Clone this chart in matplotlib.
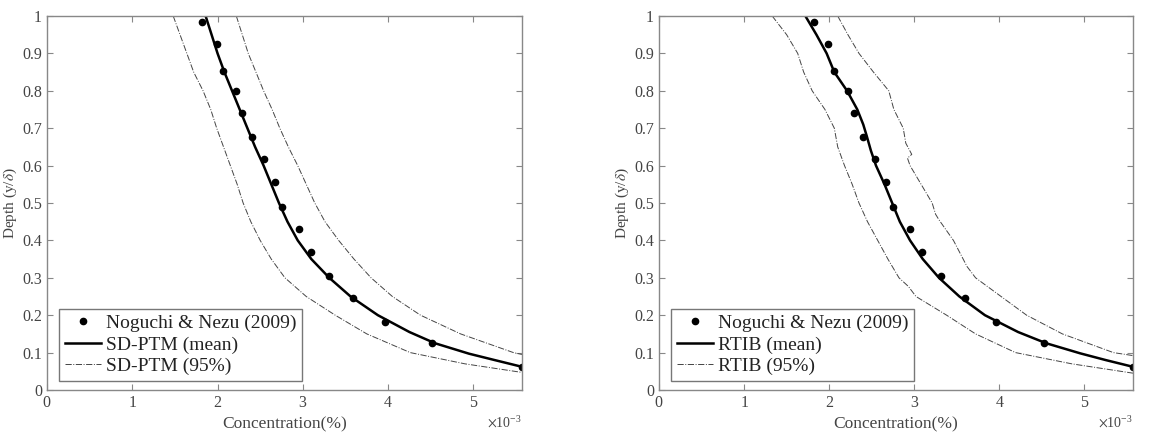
import matplotlib
matplotlib.use("Agg")
import matplotlib.pyplot as plt
from matplotlib.ticker import ScalarFormatter
import numpy as np

plt.rcParams["font.family"] = ["Liberation Serif", "DejaVu Serif"]
plt.rcParams["mathtext.fontset"] = "stix"

# concentration values in units of 1e-3
obs_x = [1.82, 1.99, 2.06, 2.22, 2.29, 2.40, 2.54, 2.67, 2.75, 2.95, 3.09, 3.31, 3.59, 3.96, 4.52, 5.57]
obs_y = [0.984, 0.924, 0.854, 0.800, 0.740, 0.676, 0.617, 0.556, 0.490, 0.431, 0.369, 0.305, 0.245, 0.183, 0.125, 0.062]

# SD-PTM
sd_mean_x = [1.86, 1.93, 2.00, 2.08, 2.17, 2.26, 2.35, 2.44, 2.54, 2.63, 2.72, 2.82, 2.94, 3.10, 3.31, 3.56, 3.88, 4.25, 4.55, 4.95, 5.25, 5.57]
sd_mean_y = [1.00, 0.95, 0.90, 0.85, 0.80, 0.75, 0.70, 0.65, 0.60, 0.55, 0.50, 0.45, 0.40, 0.35, 0.30, 0.25, 0.20, 0.155, 0.125, 0.097, 0.08, 0.062]
sd_lo_x = [1.48, 1.56, 1.64, 1.72, 1.83, 1.92, 1.99, 2.07, 2.15, 2.23, 2.30, 2.39, 2.50, 2.63, 2.79, 3.04, 3.38, 3.75, 4.26, 4.90, 5.57]
sd_lo_y = [1.00, 0.95, 0.90, 0.85, 0.80, 0.75, 0.70, 0.65, 0.60, 0.55, 0.50, 0.45, 0.40, 0.35, 0.30, 0.25, 0.20, 0.15, 0.10, 0.07, 0.047]
sd_hi_x = [2.22, 2.29, 2.36, 2.45, 2.54, 2.64, 2.73, 2.83, 2.94, 3.04, 3.14, 3.26, 3.42, 3.60, 3.80, 4.05, 4.38, 4.85, 5.47, 5.57]
sd_hi_y = [1.00, 0.95, 0.90, 0.85, 0.80, 0.75, 0.70, 0.65, 0.60, 0.55, 0.50, 0.45, 0.40, 0.35, 0.30, 0.25, 0.20, 0.15, 0.10, 0.095]

# RTIB
rt_mean_x = [1.72, 1.85, 1.97, 2.06, 2.21, 2.33, 2.40, 2.44, 2.49, 2.55, 2.65, 2.74, 2.83, 2.95, 3.10, 3.29, 3.53, 3.83, 4.22, 4.55, 4.95, 5.25, 5.57]
rt_mean_y = [1.00, 0.95, 0.90, 0.85, 0.80, 0.75, 0.71, 0.68, 0.64, 0.60, 0.55, 0.50, 0.45, 0.40, 0.35, 0.30, 0.25, 0.20, 0.155, 0.125, 0.098, 0.08, 0.062]
rt_lo_x = [1.33, 1.50, 1.63, 1.70, 1.80, 1.95, 2.06, 2.10, 2.18, 2.27, 2.35, 2.45, 2.57, 2.69, 2.82, 2.93, 3.02, 3.38, 3.72, 4.19, 4.85, 5.57]
rt_lo_y = [1.00, 0.95, 0.90, 0.85, 0.80, 0.75, 0.70, 0.65, 0.60, 0.55, 0.50, 0.45, 0.40, 0.35, 0.30, 0.277, 0.25, 0.20, 0.15, 0.10, 0.07, 0.045]
rt_hi_x = [2.10, 2.22, 2.35, 2.52, 2.70, 2.76, 2.87, 2.90, 2.97, 2.92, 2.95, 3.08, 3.21, 3.25, 3.29, 3.46, 3.62, 3.72, 4.02, 4.32, 4.74, 5.34, 5.57]
rt_hi_y = [1.00, 0.95, 0.90, 0.85, 0.80, 0.75, 0.70, 0.66, 0.63, 0.62, 0.60, 0.55, 0.50, 0.47, 0.455, 0.40, 0.33, 0.30, 0.25, 0.20, 0.15, 0.10, 0.092]

xticks = [0, 1, 2, 3, 4, 5]
yticks = [0, 0.1, 0.2, 0.3, 0.4, 0.5, 0.6, 0.7, 0.8, 0.9, 1]

fig = plt.figure(figsize=(11.51, 4.32), dpi=100)
ax1 = fig.add_axes([47 / 1151, 42 / 432, 475 / 1151, 374 / 432])
ax2 = fig.add_axes([659 / 1151, 42 / 432, 474 / 1151, 374 / 432])

panels = [
    (ax1, "SD-PTM", sd_mean_x, sd_mean_y, sd_lo_x, sd_lo_y, sd_hi_x, sd_hi_y),
    (ax2, "RTIB", rt_mean_x, rt_mean_y, rt_lo_x, rt_lo_y, rt_hi_x, rt_hi_y),
]

for ax, name, mx, my, lx, ly, hx, hy in panels:
    s = 1e-3
    ax.plot(np.array(obs_x) * s, obs_y, "o", color="black", markersize=4.5, label="Noguchi & Nezu (2009)")
    ax.plot(np.array(mx) * s, my, "-", color="black", linewidth=1.8, label=name + " (mean)")
    ax.plot(np.array(lx) * s, ly, "-.", color="#444444", linewidth=0.7, label=name + " (95%)")
    ax.plot(np.array(hx) * s, hy, "-.", color="#444444", linewidth=0.7)

    ax.set_xlim(0, 5.57e-3)
    ax.set_ylim(0, 1)
    ax.set_xticks(np.array(xticks) * 1e-3)
    ax.set_yticks(yticks)
    fmt = ScalarFormatter(useMathText=True)
    fmt.set_powerlimits((-2, 2))
    ax.xaxis.set_major_formatter(fmt)
    ax.yaxis.set_major_formatter(plt.FuncFormatter(lambda v, p: "%g" % v))
    ax.xaxis.get_offset_text().set_fontsize(10)
    ax.xaxis.get_offset_text().set_color("#555555")
    ax.tick_params(direction="in", top=True, right=True, length=4, width=0.8,
                   color="#888888", labelcolor="#444444", labelsize=11.5)
    for sp in ax.spines.values():
        sp.set_color("#888888")
        sp.set_linewidth(1.0)
    ax.set_xlabel("Concentration(%)", fontsize=12.5, color="#444444", labelpad=4)
    ax.set_ylabel("Depth (y/$\\delta$)", fontsize=11, color="#444444", labelpad=2)

    leg = ax.legend(loc="lower left", bbox_to_anchor=(12 / 475, 9 / 374), borderaxespad=0,
                    fontsize=14, frameon=True, fancybox=False, handlelength=1.85,
                    handletextpad=0.25, labelspacing=0.2, borderpad=0.3)
    leg.get_frame().set_edgecolor("#555555")
    leg.get_frame().set_linewidth(1.0)
    for t in leg.get_texts():
        t.set_color("#222222")

fig.savefig("out.png", dpi=100)
